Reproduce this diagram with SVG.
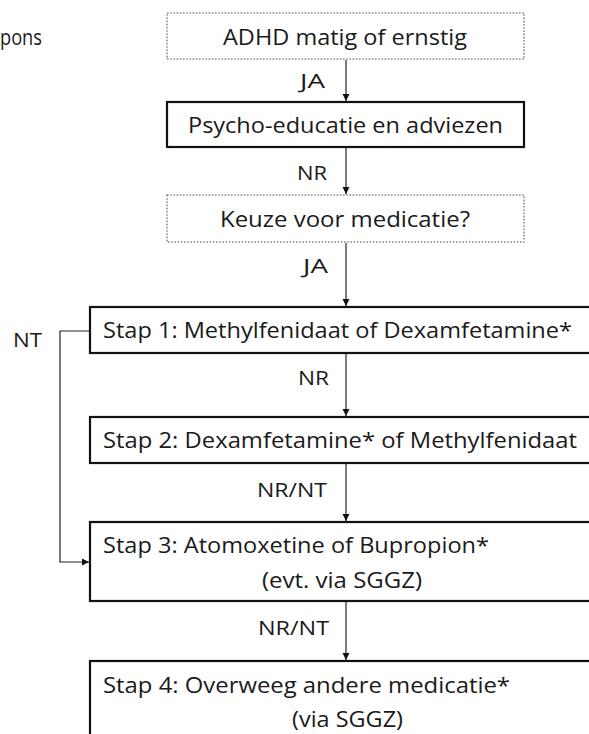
<svg xmlns="http://www.w3.org/2000/svg" width="589" height="734" viewBox="0 0 589 734">
<style>
  .t { font-family: "Open Sans", "Liberation Sans", sans-serif; font-size: 21.5px; fill: #1a1a1a; }
  .l { font-family: "Open Sans", "Liberation Sans", sans-serif; font-size: 20px; fill: #1a1a1a; }
  .solid { fill: #ffffff; stroke: #111111; stroke-width: 2.2; }
  .dot { fill: #ffffff; stroke: #8a8a8a; stroke-width: 1.6; stroke-dasharray: 1.6 1.6; }
  .c { fill: none; stroke: #222222; stroke-width: 1.2; }
</style>
<defs>
  <marker id="ah" markerWidth="8" markerHeight="8" refX="7" refY="4" orient="auto" markerUnits="userSpaceOnUse">
    <path d="M0,0.5 L7,4 L0,7.5 Z" fill="#111111"/>
  </marker>
</defs>
<rect width="589" height="734" fill="#ffffff"/>

<text class="t" x="0" y="45" textLength="42" lengthAdjust="spacingAndGlyphs">pons</text>

<g id="connectors">
  <line class="c" x1="346" y1="60" x2="346" y2="101" marker-end="url(#ah)"/>
  <line class="c" x1="346" y1="148" x2="346" y2="194" marker-end="url(#ah)"/>
  <line class="c" x1="346" y1="243" x2="346" y2="306" marker-end="url(#ah)"/>
  <line class="c" x1="346" y1="354" x2="346" y2="416" marker-end="url(#ah)"/>
  <line class="c" x1="346" y1="464" x2="346" y2="521" marker-end="url(#ah)"/>
  <line class="c" x1="346" y1="602" x2="346" y2="660" marker-end="url(#ah)"/>
  <polyline class="c" points="90,331 60,331 60,562 89,562" marker-end="url(#ah)"/>
  <text class="l" x="300" y="88" textLength="25" lengthAdjust="spacingAndGlyphs">JA</text>
  <text class="l" x="297" y="180" textLength="30" lengthAdjust="spacingAndGlyphs">NR</text>
  <text class="l" x="303" y="273" textLength="25" lengthAdjust="spacingAndGlyphs">JA</text>
  <text class="l" x="13" y="347" textLength="29" lengthAdjust="spacingAndGlyphs">NT</text>
  <text class="l" x="298" y="385" textLength="31" lengthAdjust="spacingAndGlyphs">NR</text>
  <text class="l" x="257" y="497" textLength="70" lengthAdjust="spacingAndGlyphs">NR/NT</text>
  <text class="l" x="258" y="635" textLength="71" lengthAdjust="spacingAndGlyphs">NR/NT</text>
</g>

<g id="adhd">
  <rect class="dot" x="167" y="13" width="357" height="46"/>
  <text class="t" x="223" y="45" textLength="244" lengthAdjust="spacingAndGlyphs">ADHD matig of ernstig</text>
</g>
<g id="psycho">
  <rect class="solid" x="167" y="102" width="357" height="45"/>
  <text class="t" x="188" y="133" textLength="315" lengthAdjust="spacingAndGlyphs">Psycho-educatie en adviezen</text>
</g>
<g id="keuze">
  <rect class="dot" x="167" y="195" width="357" height="47"/>
  <text class="t" x="220" y="227" textLength="250" lengthAdjust="spacingAndGlyphs">Keuze voor medicatie?</text>
</g>
<g id="stap1">
  <rect class="solid" x="90" y="307" width="520" height="46"/>
  <text class="t" x="103" y="338" textLength="469" lengthAdjust="spacingAndGlyphs">Stap 1: Methylfenidaat of Dexamfetamine*</text>
</g>
<g id="stap2">
  <rect class="solid" x="90" y="417" width="520" height="46"/>
  <text class="t" x="103" y="448" textLength="474" lengthAdjust="spacingAndGlyphs">Stap 2: Dexamfetamine* of Methylfenidaat</text>
</g>
<g id="stap3">
  <rect class="solid" x="90" y="522" width="520" height="79"/>
  <text class="t" x="103" y="553" textLength="386" lengthAdjust="spacingAndGlyphs">Stap 3: Atomoxetine of Bupropion*</text>
  <text class="t" x="262" y="588" textLength="160" lengthAdjust="spacingAndGlyphs">(evt. via SGGZ)</text>
</g>
<g id="stap4">
  <rect class="solid" x="90" y="661" width="520" height="90"/>
  <text class="t" x="103" y="693" textLength="407" lengthAdjust="spacingAndGlyphs">Stap 4: Overweeg andere medicatie*</text>
  <text class="t" x="292" y="727" textLength="111" lengthAdjust="spacingAndGlyphs">(via SGGZ)</text>
</g>
</svg>
